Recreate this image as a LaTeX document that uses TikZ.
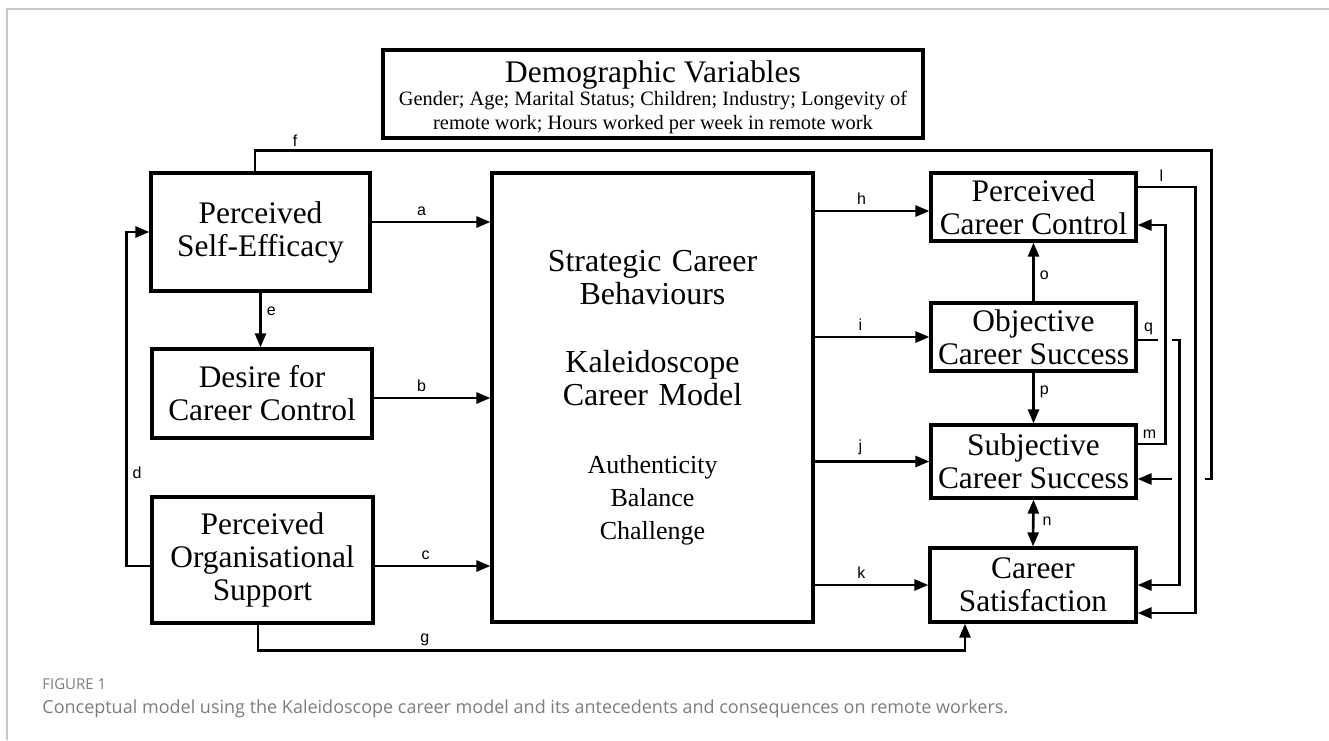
\documentclass[tikz,border=0pt]{standalone}
\usepackage{fontspec}
\setmainfont{Liberation Serif}
\newfontfamily\lblfont{Liberation Sans}
\newfontfamily\capfont{Open Sans}
\usetikzlibrary{arrows.meta}
\definecolor{framegray}{RGB}{200,200,200}
\definecolor{capgray}{RGB}{125,125,125}
\newcommand\subsize{\fontsize{10.2}{11}\selectfont}

\begin{document}
\begin{tikzpicture}[x=0.5pt,y=-0.5pt,
  >={Triangle[length=7pt,width=5.5pt]},
  box/.style={draw, line width=1.6pt, align=center, inner sep=0pt,
    font=\fontsize{15.7}{16.5}\selectfont},
  wire/.style={line width=1.3pt},
  lbl/.style={font=\lblfont\fontsize{8}{9}\selectfont, inner sep=1pt},
  capt/.style={anchor=base west, inner sep=0pt, text=capgray}]
\useasboundingbox (0,0) rectangle (1329,740);
\draw[framegray, line width=0.8pt] (7,740) -- (7,9) -- (1329,9);

% boxes
\node[box, minimum width=270pt, minimum height=44pt] (demo) at (653,94)
  {\rule{0pt}{14pt}Demographic Variables\\[-5pt]
   \subsize Gender; Age; Marital Status; Children; Industry; Longevity of\\[-4.5pt]
   \subsize remote work; Hours worked per week in remote work};
\node[box, minimum width=109.5pt, minimum height=59pt] (pse) at (260.5,232) {Perceived\\Self-Efficacy};
\node[box, minimum width=110pt, minimum height=44.5pt] (dcc) at (262,393.5) {Desire for\\Career Control};
\node[box, minimum width=110.5pt, minimum height=63pt] (pos) at (262.5,560) {Perceived\\Organisational\\Support};
\node[box, minimum width=160.5pt, minimum height=224.5pt, text width=156pt] (scb) at (652.5,397.5)
  {\centering\fontsize{16}{16.5}\selectfont Strategic Career\\Behaviours\\[17.5pt]
   Kaleidoscope\\Career Model\\[17.5pt]
   {\fontsize{13}{16.5}\selectfont Authenticity\\Balance\\Challenge}\par\vspace*{-3pt}};
\node[box, minimum width=102.5pt, minimum height=34pt] (pcc) at (1033.5,207) {Perceived\\Career Control};
\node[box, minimum width=102.5pt, minimum height=34pt] (ocs) at (1033.5,337) {Objective\\Career Success};
\node[box, minimum width=102.5pt, minimum height=36.5pt] (scs) at (1033.5,461.5) {Subjective\\Career Success};
\node[box, minimum width=103pt, minimum height=37pt] (cs) at (1033,585) {Career\\Satisfaction};

% antecedents
\draw[wire,->] ([yshift=5pt]pse.east) -- ([yshift=5pt]pse.east -| scb.west) node[lbl,above=1.5pt,pos=0.42] (la) {a};
\draw[wire,->] ([yshift=-2.25pt]dcc.east) -- ([yshift=-2.25pt]dcc.east -| scb.west) node[lbl,above=1.5pt,pos=0.41] (lb) {b};
\draw[wire,->] ([yshift=-3pt]pos.east) -- ([yshift=-3pt]pos.east -| scb.west) node[lbl,above=1.5pt,pos=0.44] (lc) {c};
\draw[wire,->] ([yshift=-3pt]pos.west) -| node[lbl,right=1.5pt,pos=0.64] (ld) {d} ([xshift=-11.5pt]pse.west) -- (pse.west);
\draw[wire,->] (pse.south) -- (pse.south |- dcc.north) node[lbl,right=1.5pt,pos=0.34] (le) {e};
\draw[wire] ([xshift=-2.75pt]pse.north) -- ++(0,-21) -| node[lbl,above=0.5pt,pos=0.021] (lf) {f} ([yshift=-8.75pt,xshift=37pt]scs.east) -- ++(-7,0);
\draw[wire,->] ([yshift=-8.75pt,xshift=17pt]scs.east) -- ([yshift=-8.75pt]scs.east);
\draw[wire,->] ([xshift=-2.25pt]pos.south) -- ++(0,26) -| node[lbl,above=0.5pt,pos=0.118] (lg) {g} ([xshift=-34pt]cs.south);

% outcomes
\draw[wire,->] ([yshift=-2pt]pcc.west -| scb.east) -- ([yshift=-2pt]pcc.west) node[lbl,above=1.5pt,pos=0.41] (lh) {h};
\draw[wire,->] (ocs.west -| scb.east) -- (ocs.west) node[lbl,above=1.5pt,pos=0.4] (li) {i};
\draw[wire,->] (scs.west -| scb.east) -- (scs.west) node[lbl,above=1.5pt,pos=0.4] (lj) {j};
\draw[wire,->] (cs.west -| scb.east) -- (cs.west) node[lbl,above=1.5pt,pos=0.41] (lk) {k};
\draw[wire,->] (ocs.north) -- (pcc.south) node[lbl,right=1.5pt,pos=0.44] (lo) {o};
\draw[wire,->] (ocs.south) -- (scs.north) node[lbl,right=1.5pt,pos=0.37] (lp) {p};
\draw[wire,<->] (scs.south) -- (cs.north) node[lbl,right=3pt,pos=0.46] (ln) {n};
\draw[wire,->] ([yshift=10pt]pcc.east) -- node[lbl,above=1pt,pos=0.41] (ll) {l} ++(58,0) |- ([yshift=-14pt]cs.east);
\draw[wire,->] ([yshift=8.75pt]scs.east) -- node[lbl,above=1pt,pos=0.43] (lm) {m} ++(28,0) |- ([yshift=-9pt]pcc.east);
\draw[wire] ([yshift=-1.5pt]ocs.east) -- node[lbl,above=1pt,pos=0.55] (lq) {q} ++(20,0);
\draw[wire,->] ([yshift=-1.5pt,xshift=17pt]ocs.east) -- ++(8,0) |- (cs.east);

% caption
\node[capt, font=\capfont\fontsize{7.5}{9}\selectfont] (fig) at (42,689) {FIGURE 1};
\node[capt, font=\capfont\fontsize{9}{11}\selectfont] (captxt) at (42,713)
  {Conceptual model using the Kaleidoscope career model and its antecedents and consequences on remote workers.};
\end{tikzpicture}
\end{document}
